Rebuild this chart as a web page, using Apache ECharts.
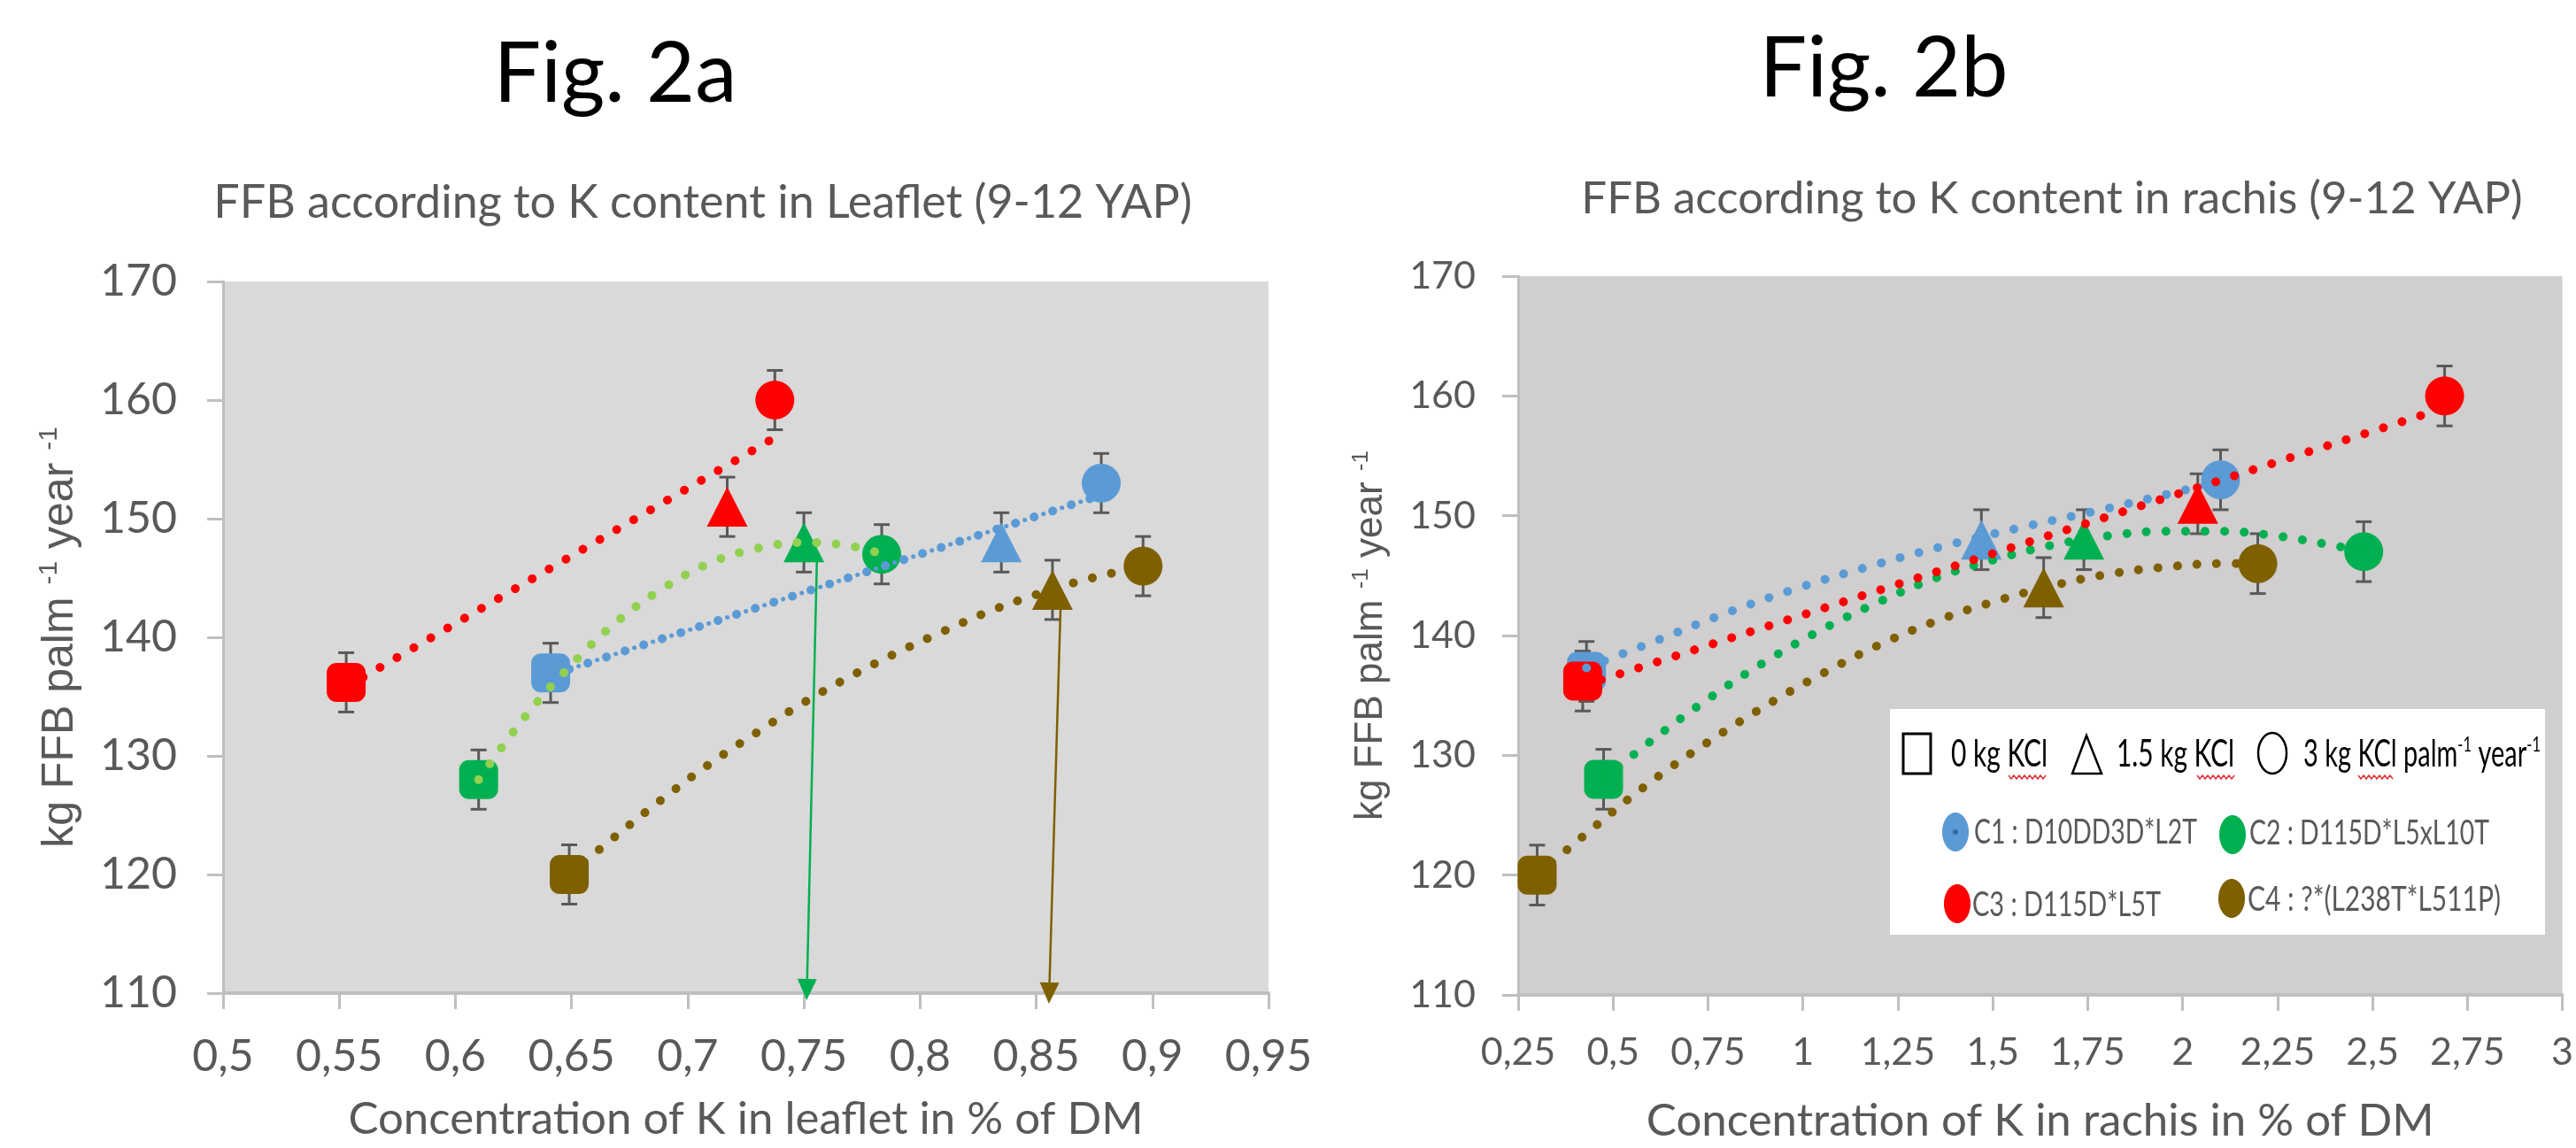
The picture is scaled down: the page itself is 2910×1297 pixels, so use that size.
<!DOCTYPE html>
<html>
<head>
<meta charset="utf-8">
<script src="https://cdn.jsdelivr.net/npm/echarts@6/dist/echarts.min.js"></script>
<style>
html,body{margin:0;padding:0;background:#fff;}
#chart{width:2910px;height:1297px;}
</style>
</head>
<body>
<div id="chart"></div>
<script>
// ---------------- DATA ----------------
const cloneNames = ['C1 : D10DD3D*L2T', 'C2 : D115D*L5xL10T', 'C3 : D115D*L5T', 'C4 : ?*(L238T*L511P)'];
const doseNames = ['0 kg KCl', '1.5 kg KCl', '3 kg KCl palm-1 year-1'];

// FFB yield (kg palm-1 year-1) for doses 0 / 1.5 / 3 kg KCl
const ffbC1 = [137, 148, 153];
const ffbC2 = [128, 148, 147];
const ffbC3 = [136.2, 151, 160];
const ffbC4 = [120, 144, 146];
// standard errors
const errC1 = [2.5, 2.5, 2.5];
const errC2 = [2.5, 2.5, 2.5];
const errC3 = [2.5, 2.5, 2.5];
const errC4 = [2.5, 2.5, 2.5];

// K in leaflet (% DM)
const leafC1 = [0.641, 0.835, 0.878];
const leafC2 = [0.61, 0.75, 0.7835];
const leafC3 = [0.553, 0.717, 0.7375];
const leafC4 = [0.649, 0.857, 0.896];
// K in rachis (% DM)
const rachC1 = [0.43, 1.47, 2.10];
const rachC2 = [0.475, 1.74, 2.477];
const rachC3 = [0.42, 2.04, 2.69];
const rachC4 = [0.30, 1.634, 2.198];

// trend lines
const trendLeafC1 = [[0.641, 136.8], [0.878, 152.0]];
const trendLeafC2 = [[0.61, 128.0], [0.63, 133.3], [0.65, 137.7], [0.67, 141.4], [0.69, 144.2], [0.71, 146.3], [0.73, 147.5], [0.75, 148.0], [0.77, 147.7], [0.784, 147.0]];
const trendLeafC3 = [[0.553, 135.8], [0.738, 156.9]];
const trendLeafC4 = [[0.649, 120.0], [0.67, 123.4], [0.69, 126.5], [0.71, 129.4], [0.73, 132.0], [0.75, 134.5], [0.77, 136.7], [0.79, 138.7], [0.81, 140.5], [0.83, 142.2], [0.85, 143.6], [0.87, 144.8], [0.896, 146.0]];
const trendRachC1 = [[0.43, 137.3], [0.6, 139.4], [0.8, 141.9], [1.0, 144.1], [1.2, 146.0], [1.4, 147.7], [1.6, 149.2], [1.8, 150.6], [2.0, 152.1], [2.1, 152.9]];
const trendRachC2 = [[0.475, 128.0], [0.6, 131.2], [0.75, 134.7], [0.9, 137.8], [1.05, 140.5], [1.2, 142.8], [1.35, 144.8], [1.5, 146.3], [1.65, 147.5], [1.8, 148.3], [1.95, 148.7], [2.1, 148.7], [2.25, 148.3], [2.4, 147.5], [2.477, 147.0]];
const trendRachC3 = [[0.42, 135.8], [2.69, 159.0]];
const trendRachC4 = [[0.30, 120.0], [0.45, 124.0], [0.6, 127.8], [0.75, 131.1], [0.9, 134.1], [1.05, 136.8], [1.2, 139.2], [1.35, 141.2], [1.5, 142.8], [1.65, 144.1], [1.8, 145.1], [1.95, 145.7], [2.1, 146.0], [2.2, 146.0]];

// arrows (leaflet chart)
const arrowLeafC2 = [[0.7556, 146.4], [0.7513, 110.3]];
const arrowLeafC4 = [[0.8605, 142.6], [0.8556, 110.0]];

// tick labels
const leafTickLabels = ['0,5', '0,55', '0,6', '0,65', '0,7', '0,75', '0,8', '0,85', '0,9', '0,95'];
const rachTickLabels = ['0,25', '0,5', '0,75', '1', '1,25', '1,5', '1,75', '2', '2,25', '2,5', '2,75', '3'];
const ffbTickLabels = ['110', '120', '130', '140', '150', '160', '170'];

// ---------------- STYLE ----------------
const COL = ['#5b9bd5', '#00b050', '#ff0000', '#7f6000'];
const COL_LEAF_TREND = ['#5b9bd5', '#92d050', '#ff0000', '#7f6000'];
const FONT_C = 'Lato, "Liberation Sans", sans-serif';
const FONT_A = '"Liberation Sans", Arial, sans-serif';
const GREY = '#595959';
const AXIS = '#bfbfbf';
const SYMBOLS = ['roundRect', 'triangle', 'circle'];

const ffbs = [ffbC1, ffbC2, ffbC3, ffbC4];
const errs = [errC1, errC2, errC3, errC4];
const leafs = [leafC1, leafC2, leafC3, leafC4];
const rachs = [rachC1, rachC2, rachC3, rachC4];
const trendsLeaf = [trendLeafC1, trendLeafC2, trendLeafC3, trendLeafC4];
const trendsRach = [trendRachC1, trendRachC2, trendRachC3, trendRachC4];

const measureCtx = document.createElement('canvas').getContext('2d');
function textW(txt, size) {
  measureCtx.font = size + 'px ' + FONT_C;
  return measureCtx.measureText(txt).width;
}

function yAxisCfg(gridIndex, labelSize, margin, nameSize, nameGap) {
  return {
    type: 'value', gridIndex, min: 110, max: 170, interval: 10,
    axisLine: {show: true, lineStyle: {color: AXIS, width: 3}},
    axisTick: {show: true, length: 18, lineStyle: {color: AXIS, width: 3}},
    splitLine: {show: false},
    axisLabel: {
      fontSize: labelSize, fontFamily: FONT_C, color: GREY, margin,
      formatter: v => ffbTickLabels[Math.round((v - 110) / 10)]
    },
    name: '{m|kg FFB palm }{s|-1}{m| year }{s|-1}',
    nameLocation: 'middle', nameRotate: 90, nameGap,
    nameTextStyle: {
      rich: {
        m: {fontSize: nameSize, fontFamily: FONT_A, color: GREY, lineHeight: nameSize * 1.1},
        s: {fontSize: Math.round(nameSize * 0.6), fontFamily: FONT_A, color: GREY, verticalAlign: 'top', lineHeight: nameSize * 1.1}
      }
    }
  };
}
function xAxisCfg(gridIndex, min, max, interval, labels, labelSize, margin, name, nameGap) {
  return {
    type: 'value', gridIndex, min, max, interval,
    axisLine: {show: true, onZero: false, lineStyle: {color: AXIS, width: 4}},
    axisTick: {show: true, length: 18, lineStyle: {color: AXIS, width: 3}},
    splitLine: {show: false},
    axisLabel: {
      fontSize: labelSize, fontFamily: FONT_C, color: GREY, margin,
      formatter: v => labels[Math.round((v - min) / interval)]
    },
    name, nameLocation: 'middle', nameGap,
    nameTextStyle: {fontSize: 51, fontFamily: FONT_C, color: GREY}
  };
}

function errSeries(axisIdx, xs, ys, es) {
  return {
    type: 'custom', xAxisIndex: axisIdx, yAxisIndex: axisIdx, silent: true, z: 2,
    data: xs.map((x, i) => [x, ys[i], es[i]]),
    encode: {x: 0, y: 1},
    renderItem: (params, api) => {
      const x = api.value(0), y = api.value(1), e = api.value(2);
      const t = api.coord([x, y + e]), b = api.coord([x, y - e]);
      const hw = 9, st = {stroke: GREY, lineWidth: 3};
      return {type: 'group', children: [
        {type: 'line', shape: {x1: t[0], y1: t[1], x2: b[0], y2: b[1]}, style: st},
        {type: 'line', shape: {x1: t[0] - hw, y1: t[1], x2: t[0] + hw, y2: t[1]}, style: st},
        {type: 'line', shape: {x1: b[0] - hw, y1: b[1], x2: b[0] + hw, y2: b[1]}, style: st}
      ]};
    }
  };
}
function markerSeries(axisIdx, xs, ys, color) {
  return {
    type: 'scatter', xAxisIndex: axisIdx, yAxisIndex: axisIdx, z: 3, silent: true,
    data: xs.map((x, i) => ({value: [x, ys[i]], symbol: SYMBOLS[i], symbolSize: i === 1 ? [46, 45] : 44})),
    itemStyle: {color, opacity: 1}
  };
}
function trendSeries(axisIdx, pts, color, width, offset) {
  return {
    type: 'line', xAxisIndex: axisIdx, yAxisIndex: axisIdx, z: 4, silent: true,
    data: pts, smooth: pts.length > 2 ? 0.4 : false, symbol: 'none', showSymbol: false,
    lineStyle: {color, width, type: [0.1, 22], dashOffset: offset || 0, cap: 'round'}
  };
}
function arrowSeries(axisIdx, pts, color) {
  return {
    type: 'line', xAxisIndex: axisIdx, yAxisIndex: axisIdx, z: 5, silent: true,
    data: [], symbol: 'none',
    markLine: {
      silent: true, animation: false, symbol: ['none', 'triangle'], symbolSize: [22, 24],
      label: {show: false},
      lineStyle: {color, width: 2.5, type: 'solid'},
      data: [[{coord: pts[0]}, {coord: pts[1]}]]
    }
  };
}

const series = [];
for (let c = 0; c < 4; c++) {
  series.push(errSeries(0, leafs[c], ffbs[c], errs[c]));
  series.push(errSeries(1, rachs[c], ffbs[c], errs[c]));
}
for (let c = 0; c < 4; c++) {
  series.push(markerSeries(0, leafs[c], ffbs[c], COL[c]));
  series.push(markerSeries(1, rachs[c], ffbs[c], COL[c]));
}
for (let c = 0; c < 4; c++) {
  series.push(trendSeries(0, trendsLeaf[c], COL_LEAF_TREND[c], 10));
  if (c === 0) series.push(trendSeries(0, trendsLeaf[c], COL_LEAF_TREND[c], 5, 11));
  series.push(trendSeries(1, trendsRach[c], COL[c], 10));
}
series.push(arrowSeries(0, arrowLeafC2, COL[1]));
series.push(arrowSeries(0, arrowLeafC4, COL[3]));

// ---------------- LEGEND (graphic) ----------------
function squiggle(x1, x2, y) {
  const pts = [];
  let up = true;
  for (let x = x1; x <= x2; x += 3) { pts.push([x, up ? y - 2 : y + 2]); up = !up; }
  return {type: 'polyline', shape: {points: pts}, style: {stroke: '#e03030', lineWidth: 1.5, fill: 'none'}, z: 12};
}
const ROW1 = 42, ROW2 = 39;
const rowText = (x, y, txt, targetW) => ({type: 'text', x, y, scaleX: targetW / textW(txt, ROW1), z: 11,
  style: {text: txt, fontSize: ROW1, fontFamily: FONT_C, fill: '#000', align: 'left', verticalAlign: 'middle'}});
const row1ThirdW = textW('3 kg KCl palm', ROW1) + textW(' year', ROW1) + 2 * textW('-1', 24);
const legendEls = [
  {type: 'rect', shape: {x: 2135, y: 801, width: 740, height: 255}, style: {fill: '#ffffff'}, z: 10},
  {type: 'rect', shape: {x: 2150, y: 829, width: 31, height: 45}, style: {fill: 'none', stroke: '#000', lineWidth: 3}, z: 11},
  rowText(2204, 852, doseNames[0], 109),
  {type: 'polygon', shape: {points: [[2357, 831], [2341, 874], [2374, 874]]}, style: {fill: 'none', stroke: '#000', lineWidth: 2.5}, z: 11},
  rowText(2391, 852, doseNames[1], 133),
  {type: 'ellipse', shape: {cx: 2567, cy: 851, rx: 16, ry: 23}, style: {fill: 'none', stroke: '#000', lineWidth: 2.5}, z: 11},
  {type: 'text', x: 2602, y: 852, scaleX: 268 / row1ThirdW, z: 11, style: {
    text: '{a|3 kg KCl palm}{s|-1}{a| year}{s|-1}', align: 'left', verticalAlign: 'middle',
    rich: {a: {fontSize: ROW1, fontFamily: FONT_C, fill: '#000', color: '#000', lineHeight: 46},
           s: {fontSize: 24, fontFamily: FONT_C, fill: '#000', color: '#000', verticalAlign: 'top', lineHeight: 46}}
  }},
  squiggle(2269, 2313, 878), squiggle(2482, 2524, 878), squiggle(2664, 2703, 878)
];
const legPos = [[2209, 940, 2230, 940], [2522, 943, 2541, 941], [2211, 1021, 2228, 1022], [2521, 1015, 2539, 1016]];
const legTargetW = [252, 271, 213, 286];
for (let c = 0; c < 4; c++) {
  const p = legPos[c];
  legendEls.push({type: 'ellipse', shape: {cx: p[0], cy: p[1], rx: 15, ry: 22}, style: {fill: COL[c]}, z: 11});
  legendEls.push({type: 'text', x: p[2], y: p[3], scaleX: legTargetW[c] / textW(cloneNames[c], ROW2), z: 11,
    style: {text: cloneNames[c], fontSize: ROW2, fontFamily: FONT_C, fill: GREY, align: 'left', verticalAlign: 'middle'}});
}
legendEls.push({type: 'circle', shape: {cx: 2209, cy: 940, r: 3}, style: {fill: '#2e6ca8'}, z: 12});

const titleEls = [
  {type: 'text', x: 695, y: 84, style: {text: 'Fig. 2a', fontSize: 95, fontFamily: FONT_C, fill: '#000', align: 'center', verticalAlign: 'middle'}},
  {type: 'text', x: 2128, y: 78, style: {text: 'Fig. 2b', fontSize: 95, fontFamily: FONT_C, fill: '#000', align: 'center', verticalAlign: 'middle'}},
  {type: 'text', x: 794, y: 229, style: {text: 'FFB according to K content in Leaflet (9-12 YAP)', fontSize: 52, fontFamily: FONT_C, fill: GREY, align: 'center', verticalAlign: 'middle'}},
  {type: 'text', x: 2318, y: 225, style: {text: 'FFB according to K content in rachis (9-12 YAP)', fontSize: 51, fontFamily: FONT_C, fill: GREY, align: 'center', verticalAlign: 'middle'}}
];

const chart = echarts.init(document.getElementById('chart'), null, {renderer: 'canvas'});
chart.setOption({
  animation: false,
  backgroundColor: '#ffffff',
  grid: [
    {left: 252, top: 318, width: 1181, height: 804, show: true, backgroundColor: '#d9d9d9', borderWidth: 0},
    {left: 1715, top: 312, width: 1191, height: 814, show: true, backgroundColor: '#d0cece', borderWidth: 0}
  ],
  xAxis: [
    xAxisCfg(0, 0.5, 0.95, 0.05, leafTickLabels, 50, 47, 'Concentration of K in leaflet in % of DM', 117),
    xAxisCfg(1, 0.25, 3, 0.25, rachTickLabels, 43, 44, 'Concentration of K in rachis in % of DM', 117)
  ],
  yAxis: [
    yAxisCfg(0, 50, 52, 50, 156),
    yAxisCfg(1, 43, 48, 44, 142)
  ],
  graphic: titleEls.concat(legendEls),
  series
});
</script>
</body>
</html>
